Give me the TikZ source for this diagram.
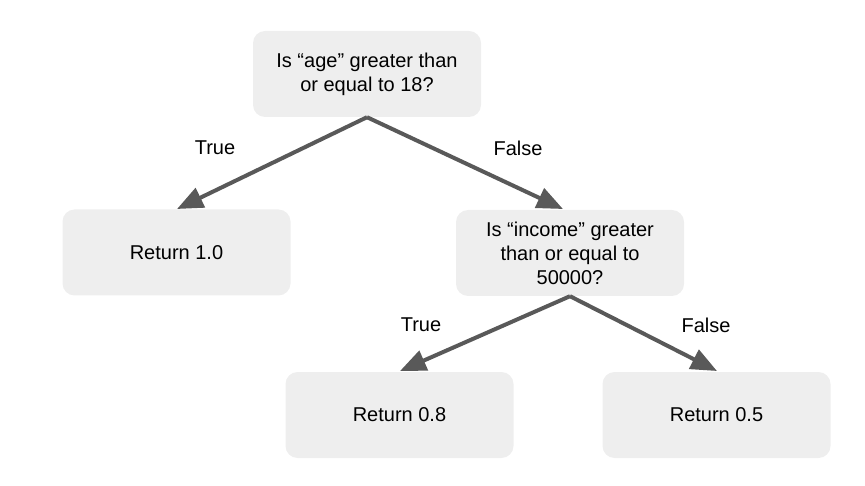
\documentclass[tikz,border=0pt]{standalone}
\usepackage{fontspec}
\setmainfont{Liberation Sans}
\usetikzlibrary{arrows.meta}
\definecolor{boxfill}{HTML}{EEEEEE}
\definecolor{arrowc}{HTML}{595959}
\begin{document}
\begin{tikzpicture}[x=1pt,y=-1pt,
  box/.style={rectangle,rounded corners=12pt,fill=boxfill,minimum width=228pt,minimum height=86pt,align=center,font=\fontsize{20}{24}\selectfont,inner sep=0pt},
  conn/.style={draw=arrowc,line width=4pt,-{Triangle[length=26pt,width=21pt]},fill=arrowc},
  lbl/.style={font=\fontsize{20}{24}\selectfont,inner sep=0pt}]
\useasboundingbox (0,0) rectangle (865,486);
\node[box] (top) at (367,74) {Is “age” greater than\\or equal to 18?};
\node[box] (r1) at (176.5,252.5) {Return 1.0};
\node[box] (mid) at (570,253) {Is “income” greater\\than or equal to\\50000?};
\node[box] (r8) at (399.5,415) {Return 0.8};
\node[box] (r5) at (716.5,415) {Return 0.5};
\coordinate (t1) at (177,209);
\coordinate (t2) at (563,209);
\coordinate (t3) at (400,371);
\coordinate (t4) at (717,371);
\draw[conn] (top.south) -- (t1);
\draw[conn] (top.south) -- (t2);
\draw[conn] (mid.south) -- (t3);
\draw[conn] (mid.south) -- (t4);
\node[lbl] (l1) at (215,148) {True};
\node[lbl] (l2) at (518,148) {False};
\node[lbl] (l3) at (421,325) {True};
\node[lbl] (l4) at (706,325) {False};
\end{tikzpicture}
\end{document}
